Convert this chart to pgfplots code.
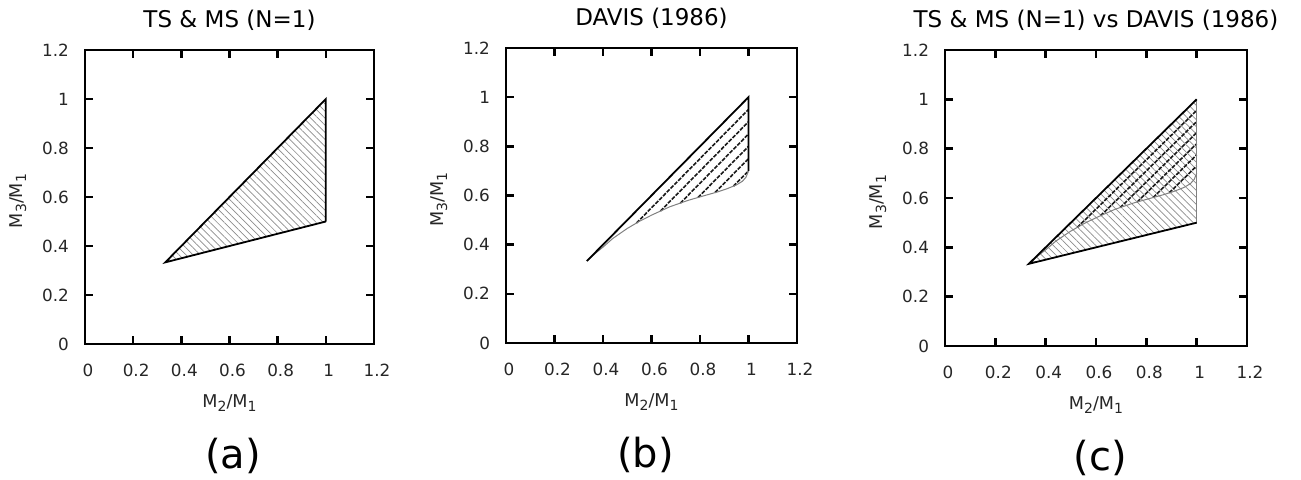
\documentclass[border=0pt]{standalone}
\usepackage{fontspec}
\setmainfont{DejaVu Sans}
\usepackage{pgfplots}
\pgfplotsset{compat=1.18}
\usetikzlibrary{patterns.meta}

\newcommand{\sub}[1]{\raisebox{-0.35ex}{\fontsize{7}{8}\selectfont #1}}

\pgfplotsset{
  panel/.style={
    scale only axis, clip=false,
    xmin=0, xmax=1.2, ymin=0, ymax=1.2,
    xtick={0,0.2,0.4,0.6,0.8,1,1.2},
    ytick={0,0.2,0.4,0.6,0.8,1,1.2},
    tick align=inside, tick pos=both, major tick length=4pt,
    axis line style={line width=1.2pt},
    tick style={line width=1.2pt, black},
    /pgf/number format/assume math mode=true,
    ticklabel style={font=\fontsize{8.4}{9}\selectfont, text=black!85},
    xticklabel style={yshift=-6.5pt, xshift=1.5pt},
    yticklabel style={xshift=-4.5pt},
    label style={font=\fontsize{8.8}{10}\selectfont, text=black!85},
    title style={font=\fontsize{11.5}{13}\selectfont},
    xlabel={M\sub{2}/M\sub{1}},
    ylabel={M\sub{3}/M\sub{1}},
    xlabel style={at={([yshift=-22pt]axis description cs:0.5,0)}, anchor=north},
    ylabel style={at={([xshift=-33.5pt,yshift=-2pt]axis description cs:0,0.5)}, anchor=center},
  },
  tshatch/.style={draw=none, pattern={Lines[angle=-45,distance=2.5pt,line width=0.35pt]}, pattern color=black!45},
  dhatch/.style={black!90, line width=0.8pt, dash pattern=on 2pt off 0.7pt},
  dcurve/.style={gray, line width=0.5pt},
}

\pgfplotstableread{
x y
0.3333 0.3333
0.37 0.366
0.40 0.39
0.44 0.425
0.50 0.466
0.55 0.495
0.60 0.52
0.675 0.554
0.75 0.58
0.813 0.598
0.87 0.614
0.91 0.627
0.95 0.643
0.975 0.658
0.99 0.675
1.0 0.70
}\davis

\begin{document}
\begin{tikzpicture}
\useasboundingbox (0,0) rectangle (650.5pt,239.5pt);

% (a)
\begin{axis}[panel, at={(42.5pt,67.5pt)}, anchor=south west,
  width=144.5pt, height=147pt, title={TS \& MS (N=1)}]
\addplot[tshatch] coordinates {(0.3333,0.3333) (1,1) (1,0.5)} -- cycle;
\addplot[black, line width=0.9pt] coordinates {(1,0.5) (0.3333,0.3333) (1,1) (1,0.5)};
\node[font=\fontsize{20}{24}\selectfont, anchor=base] at ([xshift=1.75pt,yshift=-62pt]axis description cs:0.5,0) {(a)};
\end{axis}

% (b)
\begin{axis}[panel, at={(253pt,68pt)}, anchor=south west,
  width=145.5pt, height=147.5pt, title={DAVIS (1986)}]
\addplot[dhatch] coordinates {(0.538,0.488) (1,0.95)};
\addplot[dhatch] coordinates {(0.637,0.537) (1,0.90)};
\addplot[dhatch] coordinates {(0.719,0.569) (1,0.85)};
\addplot[dhatch] coordinates {(0.792,0.592) (1,0.80)};
\addplot[dhatch] coordinates {(0.862,0.612) (1,0.75)};
\addplot[dhatch] coordinates {(0.938,0.638) (1,0.70)};
\addplot[dcurve] table {\davis};
\addplot[black, line width=0.9pt] coordinates {(0.3333,0.3333) (1,1) (1,0.7)};
\node[font=\fontsize{20}{24}\selectfont, anchor=base] at ([xshift=-3pt,yshift=-62pt]axis description cs:0.5,0) {(b)};
\end{axis}

% (c)
\begin{axis}[panel, at={(472.5pt,66.5pt)}, anchor=south west,
  width=151pt, height=148pt, title={TS \& MS (N=1) vs DAVIS (1986)}]
\addplot[tshatch] coordinates {(0.3333,0.3333) (1,1) (1,0.5)} -- cycle;
\addplot[dhatch] coordinates {(0.526,0.481) (1,0.955)};
\addplot[dhatch] coordinates {(0.618,0.528) (1,0.91)};
\addplot[dhatch] coordinates {(0.696,0.561) (1,0.865)};
\addplot[dhatch] coordinates {(0.764,0.584) (1,0.82)};
\addplot[dhatch] coordinates {(0.827,0.602) (1,0.775)};
\addplot[dhatch] coordinates {(0.891,0.621) (1,0.73)};
\addplot[dcurve] table {\davis};
\addplot[gray, line width=0.7pt] coordinates {(1,0.5) (1,1)};
\addplot[black, line width=0.9pt] coordinates {(1,0.5) (0.3333,0.3333) (1,1)};
\node[font=\fontsize{20}{24}\selectfont, anchor=base] at ([xshift=2pt,yshift=-62pt]axis description cs:0.5,0) {(c)};
\end{axis}
\end{tikzpicture}
\end{document}
